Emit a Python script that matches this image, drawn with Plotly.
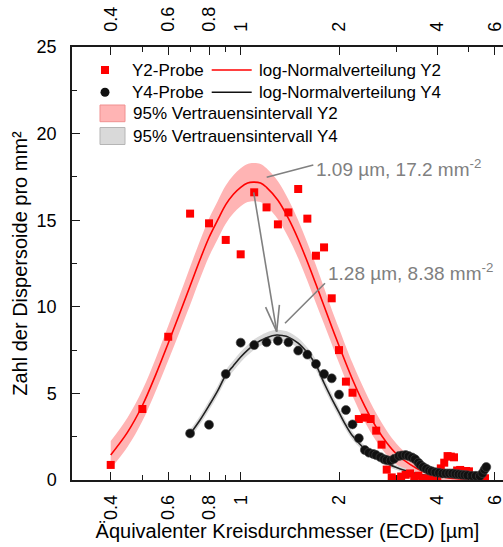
import plotly.graph_objects as go

# ---------------- data ----------------
y2_x = [0.40, 0.50, 0.60, 0.70, 0.80, 0.90, 1.00, 1.10, 1.20, 1.30, 1.40, 1.50, 1.60, 1.70,
        1.80, 1.90, 2.00, 2.10, 2.20, 2.30, 2.40, 2.50, 2.60, 2.70, 2.80, 2.90, 3.00, 3.10,
        3.20, 3.30, 3.40, 3.50, 3.60, 3.70, 3.80, 3.90, 4.00, 4.10, 4.20, 4.30, 4.40, 4.50,
        4.60, 4.70, 4.80, 4.90, 5.00, 5.10, 5.20, 5.40, 5.60]
y2_y = [0.87, 4.10, 8.27, 15.38, 14.82, 13.86, 13.03, 16.61, 15.74, 14.76, 15.45, 16.80, 15.09, 12.95,
        13.43, 10.49, 7.50, 5.68, 5.04, 3.52, 3.60, 3.52, 2.85, 2.04, 0.60, 0.15, 0.05, 0.20,
        0.30, 0.38, 0.15, 0.25, 0.10, 0.05, 0.10, 0.05, 0.20, 0.67, 1.00, 1.38, 1.35, 1.31,
        0.55, 0.58, 0.45, 0.52, 0.50, 0.20, 0.19, 0.10, 0.10]

y4_x = [0.70, 0.80, 0.90, 1.00, 1.10, 1.20, 1.30, 1.40, 1.50, 1.60, 1.70, 1.80, 1.90, 2.00,
        2.10, 2.20, 2.30, 2.40, 2.47, 2.55, 2.60, 2.68, 2.75, 2.80, 2.88, 2.95, 3.05, 3.12,
        3.20, 3.27, 3.35, 3.42, 3.50, 3.55, 3.62, 3.70, 3.78, 3.85, 3.95, 4.05, 4.15, 4.25,
        4.35, 4.45, 4.55, 4.65, 4.75, 4.85, 4.95, 5.10, 5.25, 5.40, 5.50, 5.58, 5.65]
y4_y = [2.69, 3.19, 6.12, 7.93, 7.79, 7.95, 8.04, 7.95, 7.47, 7.24, 6.70, 6.12, 5.87, 4.93,
        4.04, 3.21, 2.41, 1.73, 1.58, 1.50, 1.44, 1.32, 1.20, 1.15, 1.12, 1.22, 1.38, 1.42,
        1.44, 1.38, 1.30, 1.20, 1.00, 0.87, 0.75, 0.65, 0.55, 0.50, 0.45, 0.42, 0.38, 0.38,
        0.38, 0.38, 0.35, 0.33, 0.30, 0.29, 0.27, 0.25, 0.24, 0.23, 0.40, 0.60, 0.75]

fit2_x = [0.40, 0.45, 0.50, 0.55, 0.60, 0.65, 0.70, 0.75, 0.80, 0.85, 0.90, 0.95, 1.00, 1.05,
          1.093, 1.15, 1.20, 1.30, 1.40, 1.50, 1.60, 1.70, 1.80, 1.90, 2.00, 2.20, 2.40, 2.60,
          2.80, 3.00, 3.30, 3.60, 4.00, 4.50, 5.00, 5.70]
fit2_y = [1.45, 2.75, 4.30, 6.10, 7.90, 9.60, 11.20, 12.70, 14.00, 15.00, 15.90, 16.50, 16.90, 17.15,
          17.20, 17.15, 16.90, 16.15, 15.10, 13.90, 12.60, 11.30, 10.05, 8.85, 7.75, 5.80, 4.25, 3.05,
          2.15, 1.50, 0.90, 0.50, 0.22, 0.09, 0.04, 0.01]
ci2_hw = [0.80, 0.85, 0.90, 0.95, 1.00, 1.05, 1.10, 1.10, 1.10, 1.10, 1.10, 1.10, 1.10, 1.10,
          1.10, 1.10, 1.10, 1.10, 1.10, 1.10, 1.10, 1.10, 1.05, 1.00, 1.00, 0.95, 0.90, 0.80,
          0.70, 0.60, 0.45, 0.33, 0.20, 0.12, 0.08, 0.05]

fit4_x = [0.703, 0.75, 0.80, 0.85, 0.90, 0.95, 1.00, 1.05, 1.10, 1.15, 1.20, 1.289, 1.35, 1.40,
          1.50, 1.60, 1.70, 1.80, 1.90, 2.00, 2.10, 2.20, 2.35, 2.50, 2.65, 2.80, 3.00, 3.15,
          3.50, 4.00, 4.50, 5.00, 5.70]
fit4_y = [2.70, 3.45, 4.30, 5.15, 6.05, 6.60, 7.10, 7.50, 7.82, 8.05, 8.22, 8.37, 8.33, 8.25,
          7.90, 7.35, 6.65, 5.60, 4.70, 3.90, 3.15, 2.55, 1.95, 1.50, 1.20, 0.95, 0.72, 0.58,
          0.35, 0.20, 0.14, 0.11, 0.10]
ci4_hw = [0.25, 0.25, 0.27, 0.28, 0.30, 0.30, 0.30, 0.30, 0.30, 0.30, 0.30, 0.30, 0.30, 0.30,
          0.30, 0.30, 0.30, 0.30, 0.28, 0.27, 0.25, 0.23, 0.20, 0.18, 0.16, 0.15, 0.14, 0.13,
          0.12, 0.10, 0.08, 0.06, 0.05]

x_ticks = [0.4, 0.6, 0.8, 1, 2, 4, 6]
x_ticktext = ["0.4", "0.6", "0.8", "1", "2", "4", "6"]
x_minor = [0.5, 0.7, 0.9, 3, 5]

peak2_label = "1.09 µm, 17.2 mm<sup>-2</sup>"
peak4_label = "1.28 µm, 8.38 mm<sup>-2</sup>"
legend_labels = ["Y2-Probe", "log-Normalverteilung Y2", "Y4-Probe", "log-Normalverteilung Y4",
                 "95% Vertrauensintervall Y2", "95% Vertrauensintervall Y4"]

# ---------------- layout geometry ----------------
W, H = 503, 547
L, R, T, B = 72, 0, 47, 67
PW, PH = W - L - R, H - T - B
FONT = "Liberation Sans, Arial, sans-serif"
RED = "#ff0000"
RED_BAND = "#ffb4b4"
GREY_BAND = "#d9d9d9"
GREY = "#808080"
AX = "#1a1a1a"


def px(x):
    return (x - L) / PW


def py(y):
    return (H - B - y) / PH


fig = go.Figure()

# confidence bands
fig.add_trace(go.Scatter(x=fit2_x, y=[a + b for a, b in zip(fit2_y, ci2_hw)], mode="lines",
                         line=dict(width=0, color=RED_BAND), line_shape="spline",
                         showlegend=False, hoverinfo="skip"))
fig.add_trace(go.Scatter(x=fit2_x, y=[max(a - b, 0) for a, b in zip(fit2_y, ci2_hw)], mode="lines",
                         line=dict(width=0, color=RED_BAND), line_shape="spline", fill="tonexty",
                         fillcolor=RED_BAND, showlegend=False, hoverinfo="skip"))
fig.add_trace(go.Scatter(x=fit4_x, y=[a + b for a, b in zip(fit4_y, ci4_hw)], mode="lines",
                         line=dict(width=0, color=GREY_BAND), line_shape="spline",
                         showlegend=False, hoverinfo="skip"))
fig.add_trace(go.Scatter(x=fit4_x, y=[max(a - b, 0) for a, b in zip(fit4_y, ci4_hw)], mode="lines",
                         line=dict(width=0, color=GREY_BAND), line_shape="spline", fill="tonexty",
                         fillcolor=GREY_BAND, showlegend=False, hoverinfo="skip"))

# fitted curves
fig.add_trace(go.Scatter(x=fit2_x, y=fit2_y, mode="lines", line=dict(color=RED, width=1.6),
                         line_shape="spline", showlegend=False))
fig.add_trace(go.Scatter(x=fit4_x, y=fit4_y, mode="lines", line=dict(color="#222222", width=1.6),
                         line_shape="spline", showlegend=False))

# samples
fig.add_trace(go.Scatter(x=y2_x, y=y2_y, mode="markers",
                         marker=dict(symbol="square", size=8, color=RED), showlegend=False))
fig.add_trace(go.Scatter(x=y4_x, y=y4_y, mode="markers",
                         marker=dict(symbol="circle", size=9, color="#111111",
                                     line=dict(width=0.6, color="#444444")), showlegend=False))

# dummy trace for top axis
fig.add_trace(go.Scatter(x=[1], y=[0], xaxis="x2", mode="markers", marker=dict(opacity=0),
                         showlegend=False, hoverinfo="skip"))

xrange = [-0.5165, 0.8032]
common_x = dict(type="log", range=xrange, tickvals=x_ticks, ticktext=x_ticktext, tickangle=-90,
                ticks="inside", ticklen=8, tickwidth=1.2, tickcolor=AX, showline=True,
                linecolor=AX, linewidth=1.5, showgrid=False, zeroline=False, automargin=False,
                ticklabeloverflow="allow",
                tickfont=dict(family=FONT, size=18, color="#000"),
                minor=dict(tickvals=x_minor, ticks="inside", ticklen=5, tickcolor=AX, tickwidth=1.2))

fig.update_layout(
    width=W, height=H, margin=dict(l=L, r=R, t=T, b=B, autoexpand=False),
    paper_bgcolor="white", plot_bgcolor="white", showlegend=False,
    font=dict(family=FONT, size=18, color="#000"),
    xaxis=dict(**common_x, side="bottom", ticklabelstandoff=6,
               title=dict(text="Äquivalenter Kreisdurchmesser (ECD) [µm]",
                          font=dict(family=FONT, size=20), standoff=4)),
    xaxis2=dict(**common_x, side="top", overlaying="x", anchor="y", ticklabelstandoff=10),
    yaxis=dict(range=[0, 25], dtick=5, ticks="inside", ticklen=8, tickwidth=1.2, tickcolor=AX,
               showline=True, linecolor=AX, linewidth=1.5, showgrid=False, zeroline=False,
               ticklabelstandoff=10, automargin=False,
               tickfont=dict(family=FONT, size=18, color="#000"),
               minor=dict(dtick=2.5, ticks="inside", ticklen=5, tickcolor=AX, tickwidth=1.2),
               title=dict(text="Zahl der Dispersoide pro mm²", font=dict(family=FONT, size=20),
                          standoff=4)),
)

shapes = []
ann = []

# arrow from Y2 peak to Y4 peak (open arrow head)
sx, sy, tx, ty = 253.7, 192.3, 276.7, 331.7
for (a, b, c, d) in [(sx, sy, tx, ty), (265.6, 307.1, tx, ty), (279.4, 304.9, tx, ty)]:
    shapes.append(dict(type="line", xref="paper", yref="paper", x0=px(a), y0=py(b), x1=px(c), y1=py(d),
                       line=dict(color=GREY, width=1.6)))
# leader lines
shapes.append(dict(type="line", xref="paper", yref="paper", x0=px(266.7), y0=py(177.3), x1=px(313.3),
                   y1=py(165), line=dict(color=GREY, width=1.6)))
shapes.append(dict(type="line", xref="paper", yref="paper", x0=px(285), y0=py(323.3), x1=px(325),
                   y1=py(283.3), line=dict(color=GREY, width=1.6)))
ann.append(dict(text=peak2_label, xref="paper", yref="paper", x=px(314), y=py(168), xanchor="left",
                yanchor="middle", showarrow=False, font=dict(family=FONT, size=19, color=GREY)))
ann.append(dict(text=peak4_label, xref="paper", yref="paper", x=px(325.5), y=py(272), xanchor="left",
                yanchor="middle", showarrow=False, font=dict(family=FONT, size=19, color=GREY)))

# legend (manual)
r1, r2, r3, r4 = 70, 92.3, 113.3, 136
shapes.append(dict(type="rect", xref="paper", yref="paper", x0=px(101), x1=px(109), y0=py(66), y1=py(74),
                   fillcolor=RED, line=dict(width=0)))
shapes.append(dict(type="circle", xref="paper", yref="paper", x0=px(100.5), x1=px(109.5), y0=py(r2 - 4.5),
                   y1=py(r2 + 4.5), fillcolor="#111111", line=dict(width=0)))
shapes.append(dict(type="line", xref="paper", yref="paper", x0=px(211.7), x1=px(251.7), y0=py(r1), y1=py(r1),
                   line=dict(color=RED, width=1.6)))
shapes.append(dict(type="line", xref="paper", yref="paper", x0=px(211.7), x1=px(251.7), y0=py(r2), y1=py(r2),
                   line=dict(color="#111111", width=1.6)))
shapes.append(dict(type="rect", xref="paper", yref="paper", x0=px(100), x1=px(125), y0=py(105), y1=py(121.7),
                   fillcolor=RED_BAND, line=dict(color="#f09090", width=1)))
shapes.append(dict(type="rect", xref="paper", yref="paper", x0=px(100), x1=px(125), y0=py(127.5), y1=py(144.5),
                   fillcolor=GREY_BAND, line=dict(color="#b5b5b5", width=1)))
for txt, xx, yy in [(legend_labels[0], 130, r1), (legend_labels[1], 257, r1),
                    (legend_labels[2], 130, r2), (legend_labels[3], 257, r2),
                    (legend_labels[4], 130.5, r3), (legend_labels[5], 130.5, r4)]:
    ann.append(dict(text=txt, xref="paper", yref="paper", x=px(xx), y=py(yy), xanchor="left",
                    yanchor="middle", showarrow=False, font=dict(family=FONT, size=17, color="#000")))

fig.update_layout(shapes=shapes, annotations=ann)
fig.write_html("out.html", config={"displayModeBar": False},
               post_script="document.body.style.margin='0';document.body.style.padding='0';")
